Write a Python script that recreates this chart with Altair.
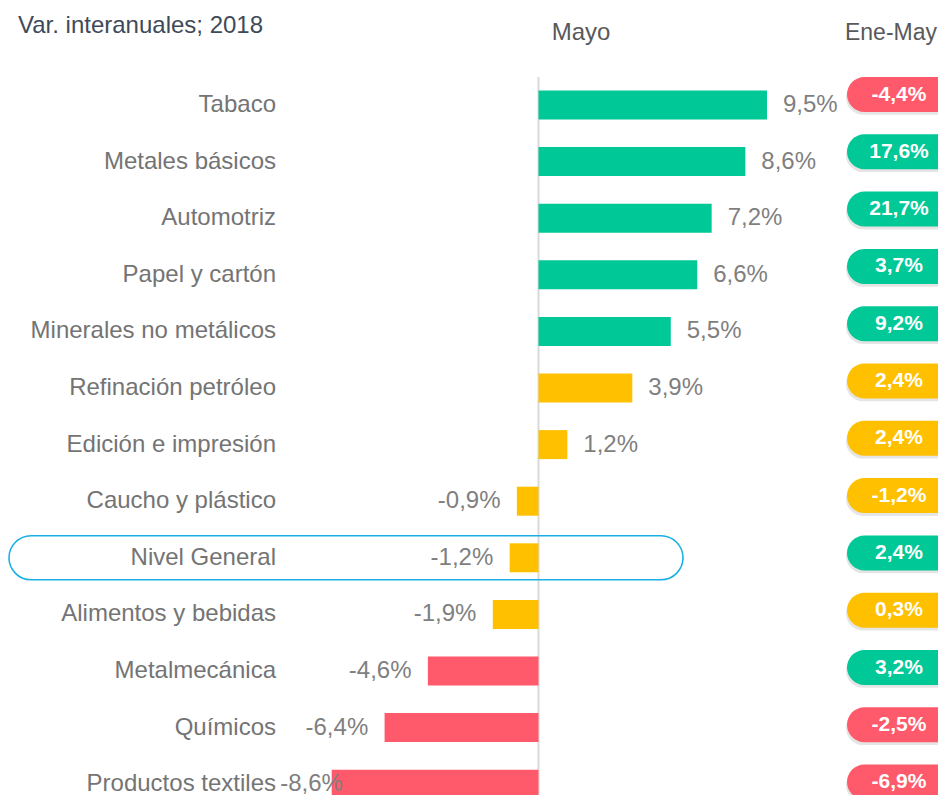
import altair as alt
import pandas as pd

# ---------------- data ----------------
categorias = [
    "Tabaco", "Metales básicos", "Automotriz", "Papel y cartón\u00a0",
    "Minerales no metálicos", "Refinación petróleo", "Edición e impresión\u00a0",
    "Caucho y plástico", "Nivel General", "Alimentos y bebidas",
    "Metalmecánica", "Químicos", "Productos textiles",
]
mayo = [9.5, 8.6, 7.2, 6.6, 5.5, 3.9, 1.2, -0.9, -1.2, -1.9, -4.6, -6.4, -8.6]
mayo_nivel = ["verde", "verde", "verde", "verde", "verde", "amarillo", "amarillo",
              "amarillo", "amarillo", "amarillo", "rojo", "rojo", "rojo"]
ene_may = [-4.4, 17.6, 21.7, 3.7, 9.2, 2.4, 2.4, -1.2, 2.4, 0.3, 3.2, -2.5, -6.9]
ene_may_nivel = ["rojo", "verde", "verde", "verde", "verde", "amarillo", "amarillo",
                 "amarillo", "verde", "amarillo", "verde", "rojo", "rojo"]
destacado = "Nivel General"

titulo = "Var. interanuales; 2018"
encabezado_mayo = "Mayo"
encabezado_acum = "Ene-May"

paleta = {"verde": "#00C896", "amarillo": "#FFC000", "rojo": "#FF5A6B"}

df = pd.DataFrame({
    "cat": categorias,
    "fila": list(range(len(categorias))),
    "mayo": mayo,
    "c_mayo": [paleta[n] for n in mayo_nivel],
    "ene": ene_may,
    "c_ene": [paleta[n] for n in ene_may_nivel],
})

# ---------------- layout ----------------
W, H = 930, 787
FONT = "Liberation Sans, Arial, Helvetica, sans-serif"
xscale = alt.Scale(domain=[-22.058, 16.611], zero=False, nice=False)
yscale = alt.Scale(domain=[-1.7138, 12.1908], zero=False, nice=False, reverse=True)

fmt = "replace(replace(format(datum.{f}, '.1f'), '.', ','), '\u2212', '-') + '%'"

base = alt.Chart(df).transform_calculate(
    cero="0",
    y0="datum.fila - 0.256",
    y1="datum.fila + 0.256",
    hy0="datum.fila - 0.389",
    hy1="datum.fila + 0.389",
    pc="datum.fila * 1.01237 - 0.1855",
    py0="datum.pc - 0.309",
    py1="datum.pc + 0.309",
    sy0="datum.pc - 0.300 + 0.05",
    sy1="datum.pc + 0.309 + 0.05",
    lab_m=fmt.format(f="mayo"),
    lab_e=fmt.format(f="ene"),
    xpos="datum.mayo + 0.665",
    xneg="max(datum.mayo - 0.68, -8.13)",
)

X = lambda f: alt.X(f, type="quantitative", scale=xscale, axis=None)
Y = lambda f: alt.Y(f, type="quantitative", scale=yscale, axis=None)

eje = alt.Chart(pd.DataFrame({"x": [0]})).mark_rule(
    color="#d9d9d9", strokeWidth=2
).encode(x=X("x"), y=alt.value(69), y2=alt.value(H))

caja = base.transform_filter(alt.datum.cat == destacado).mark_rect(
    filled=False, stroke="#1AAFE6", strokeWidth=1.6, cornerRadius=22
).encode(x=alt.value(1), x2=alt.value(675), y=Y("hy0"), y2="hy1:Q")

barras = base.mark_rect().encode(
    x=X("mayo"), x2="cero:Q", y=Y("y0"), y2="y1:Q",
    color=alt.Color("c_mayo:N", scale=None),
)

val_pos = base.transform_filter("datum.mayo >= 0").mark_text(
    align="left", baseline="middle", fontSize=24, font=FONT, color="#7f7f7f"
).encode(x=X("xpos"), y=Y("fila"), text="lab_m:N")

val_neg = base.transform_filter("datum.mayo < 0").mark_text(
    align="right", baseline="middle", fontSize=24, font=FONT, color="#7f7f7f"
).encode(x=X("xneg"), y=Y("fila"), text="lab_m:N")

etiquetas = base.mark_text(
    align="right", baseline="middle", fontSize=24, font=FONT, color="#747474"
).encode(x=alt.value(268), y=Y("fila"), text="cat:N")

sombra = base.mark_rect(cornerRadius=17.5, color="#000000", opacity=0.10, clip=True).encode(
    x=alt.value(838), x2=alt.value(1000), y=Y("sy0"), y2="sy1:Q"
)

pildora = base.mark_rect(cornerRadius=17.5, clip=True).encode(
    x=alt.value(839), x2=alt.value(1000), y=Y("py0"), y2="py1:Q",
    color=alt.Color("c_ene:N", scale=None),
)

pil_txt = base.mark_text(
    align="center", baseline="middle", fontSize=21, fontWeight="bold", font=FONT, color="white"
).encode(x=alt.value(891), y=Y("pc"), text="lab_e:N")

def texto(t, x, y, size, color, align="left"):
    return alt.Chart(pd.DataFrame({"t": [t]})).mark_text(
        align=align, baseline="alphabetic", fontSize=size, font=FONT, color=color
    ).encode(x=alt.value(x), y=alt.value(y), text="t:N")

tit = texto(titulo, 10, 24.5, 24, "#3f4a58")
h1 = texto(encabezado_mayo, 573, 32, 24, "#595959", "center")
h2 = texto(encabezado_acum, 929, 32, 23, "#595959", "right")

chart = alt.layer(
    eje, caja, barras, val_pos, val_neg, etiquetas, sombra, pildora, pil_txt, tit, h1, h2
).properties(
    width=W, height=H, padding=0, autosize="none"
).configure_view(strokeWidth=0)

chart.save("out.html", embed_options={"renderer": "svg", "actions": False})
